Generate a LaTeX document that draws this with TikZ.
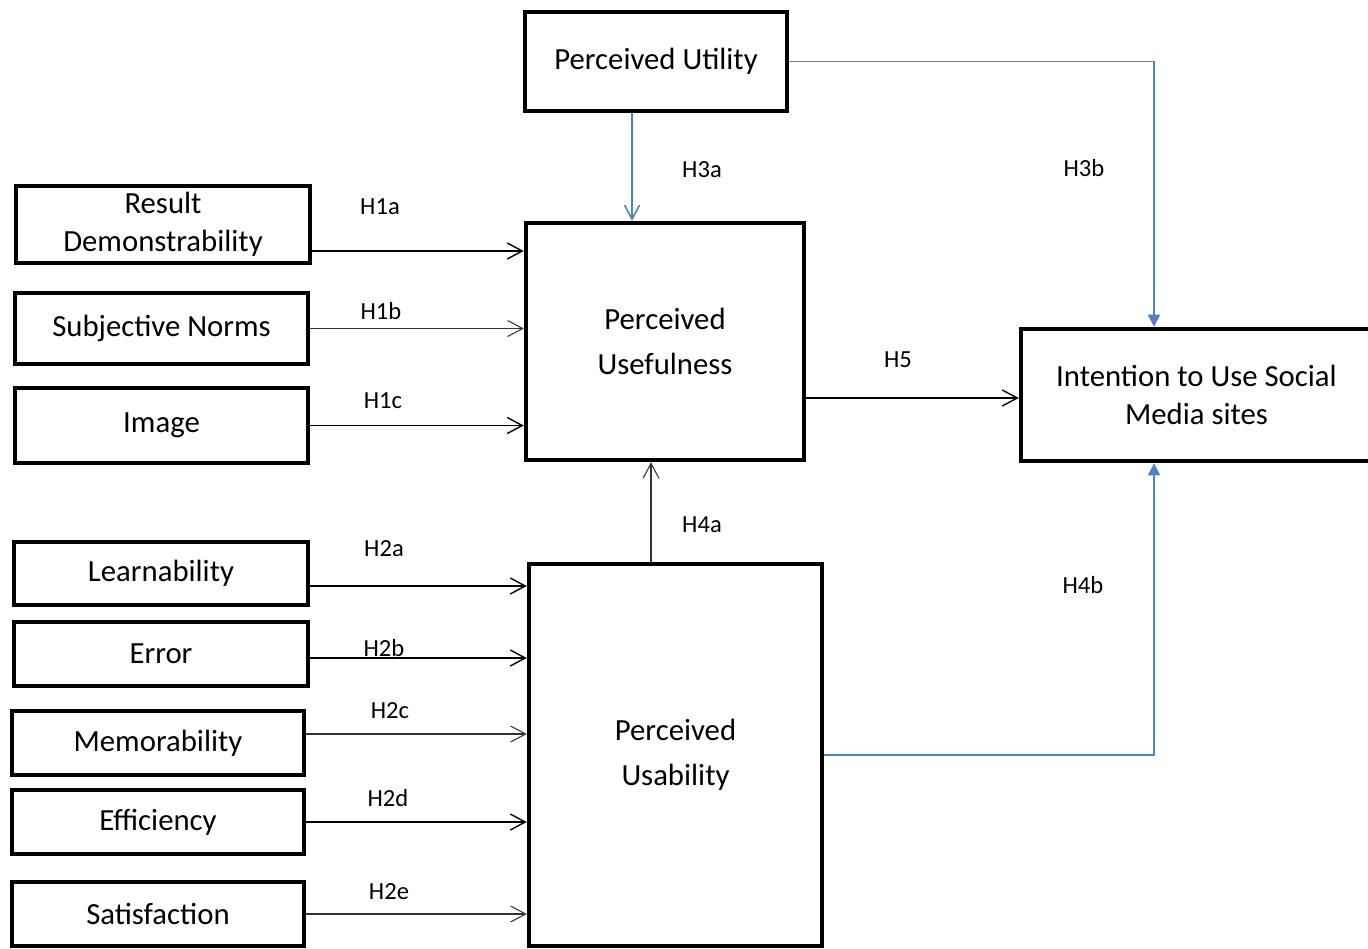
\documentclass[tikz,border=0pt]{standalone}
\usepackage{fontspec}
\setmainfont{Carlito}
\usetikzlibrary{arrows.meta,positioning,calc}
\definecolor{linkblue}{HTML}{4F81BD}

\begin{document}
\begin{tikzpicture}[x=0.02cm, y=-0.02cm,
    box/.style={draw, line width=2.6pt, align=center, inner sep=0pt,
      font=\fontsize{17.5}{21.5}\selectfont},
    tall/.style={font=\fontsize{17.5}{25.5}\selectfont},
    hyp/.style={draw, line width=0.8pt,
      -{Straight Barb[length=0.3cm, width=0.32cm]}},
    faint/.style={line width=0.6pt, draw=black!80},
    bluehyp/.style={draw=linkblue, line width=0.9pt,
      -{Straight Barb[length=0.28cm, width=0.3cm]}},
    bluetri/.style={draw=linkblue, line width=0.9pt,
      -{Triangle[length=0.24cm, width=0.24cm]}},
    hlabel/.style={font=\fontsize{14}{16}\selectfont, inner sep=0pt}
  ]
  \path[use as bounding box, clip] (0,0) rectangle (1368,948);

  % constructs
  \node[box, minimum width=5.24cm, minimum height=1.98cm] (util) at (656,61.5) {Perceived Utility};
  \node[box, tall, minimum width=5.56cm, minimum height=4.74cm] (useful) at (665,341.5) {Perceived\\Usefulness};
  \node[box, tall, minimum width=5.86cm, minimum height=7.64cm] (usab) at (675.5,755) {Perceived\\Usability};
  \node[box, minimum width=7.02cm, minimum height=2.64cm] (intent) at (1196.5,395) {Intention to Use Social\\Media sites};

  \node[box, minimum width=5.88cm, minimum height=1.54cm] (result) at (163,224.5) {Result\\Demonstrability};
  \node[box, minimum width=5.86cm, minimum height=1.42cm] (norms) at (161.5,328.5) {Subjective Norms};
  \node[box, minimum width=5.86cm, minimum height=1.5cm] (image) at (161.5,425.5) {Image};
  \node[box, minimum width=5.88cm, minimum height=1.26cm] (learn) at (161,573.5) {Learnability};
  \node[box, minimum width=5.88cm, minimum height=1.28cm] (error) at (161,654) {Error};
  \node[box, minimum width=5.84cm, minimum height=1.28cm] (memo) at (158,743) {Memorability};
  \node[box, minimum width=5.84cm, minimum height=1.28cm] (effic) at (158,822) {Efficiency};
  \node[box, minimum width=5.84cm, minimum height=1.28cm] (satis) at (158,914) {Satisfaction};

  % hypotheses
  \coordinate (h1a) at ([yshift=-0.53cm]result.east);
  \draw[hyp] (h1a) -- (h1a -| useful.west);
  \draw[hyp, faint] (norms.east) -- (norms.east -| useful.west);
  \draw[hyp] (image.east) -- (image.east -| useful.west);
  \coordinate (h2a) at ([yshift=-0.25cm]learn.east);
  \draw[hyp] (h2a) -- (h2a -| usab.west);
  \coordinate (h2b) at ([yshift=-0.08cm]error.east);
  \draw[hyp] (h2b) -- (h2b -| usab.west);
  \coordinate (h2c) at ([yshift=0.18cm]memo.east);
  \draw[hyp, faint] (h2c) -- (h2c -| usab.west);
  \draw[hyp] (effic.east) -- (effic.east -| usab.west);
  \draw[hyp, faint] (satis.east) -- (satis.east -| usab.west);

  \coordinate (h3a) at ([xshift=-0.48cm]util.south);
  \draw[bluehyp] (h3a) -- (h3a |- useful.north);
  \coordinate (h3b) at ([xshift=-0.85cm]intent.north);
  \draw[bluetri] (util.east) -| (h3b);
  \coordinate (h4a) at ([xshift=-0.49cm]usab.north);
  \draw[hyp, faint] (h4a) -- (h4a |- useful.south);
  \coordinate (h4b) at ([xshift=-0.85cm]intent.south);
  \draw[bluetri] (usab.east) -| (h4b);
  \coordinate (h5) at ([yshift=-1.13cm]useful.east);
  \draw[hyp] (h5) -- (h5 -| intent.west);

  % labels
  \node[hlabel] (l1a) at (380,207) {H1a};
  \node[hlabel] (l1b) at (381,311) {H1b};
  \node[hlabel] (l1c) at (383,401) {H1c};
  \node[hlabel] (l2a) at (384,549) {H2a};
  \node[hlabel] (l2b) at (384,648) {H2b};
  \node[hlabel] (l2c) at (390,711) {H2c};
  \node[hlabel] (l2d) at (388,798) {H2d};
  \node[hlabel] (l2e) at (389,892) {H2e};
  \node[hlabel] (l3a) at (702,170) {H3a};
  \node[hlabel] (l3b) at (1084,168) {H3b};
  \node[hlabel] (l4a) at (702,525) {H4a};
  \node[hlabel] (l4b) at (1083,585) {H4b};
  \node[hlabel] (l5) at (898,360) {H5};
\end{tikzpicture}
\end{document}
